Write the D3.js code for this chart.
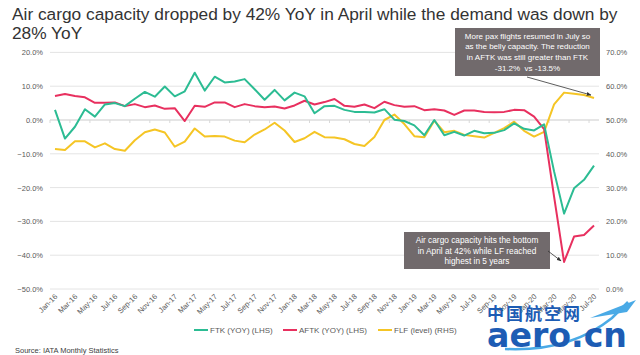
<!DOCTYPE html>
<html><head><meta charset="utf-8">
<script src="https://cdn.jsdelivr.net/npm/d3@7"></script>
<style>
body{margin:0;background:#fff;}
svg{display:block;font-family:"Liberation Sans",Arial,sans-serif;}
</style>
</head><body>
<svg id="c" width="640" height="355"></svg>
<script>
const months = ["Jan-16","Feb-16","Mar-16","Apr-16","May-16","Jun-16","Jul-16","Aug-16","Sep-16","Oct-16","Nov-16","Dec-16",
"Jan-17","Feb-17","Mar-17","Apr-17","May-17","Jun-17","Jul-17","Aug-17","Sep-17","Oct-17","Nov-17","Dec-17",
"Jan-18","Feb-18","Mar-18","Apr-18","May-18","Jun-18","Jul-18","Aug-18","Sep-18","Oct-18","Nov-18","Dec-18",
"Jan-19","Feb-19","Mar-19","Apr-19","May-19","Jun-19","Jul-19","Aug-19","Sep-19","Oct-19","Nov-19","Dec-19",
"Jan-20","Feb-20","Mar-20","Apr-20","May-20","Jun-20","Jul-20"];
const xTickLabels = ["Jan-16","Mar-16","May-16","Jul-16","Sep-16","Nov-16","Jan-17","Mar-17","May-17","Jul-17","Sep-17","Nov-17",
"Jan-18","Mar-18","May-18","Jul-18","Sep-18","Nov-18","Jan-19","Mar-19","May-19","Jul-19","Sep-19","Nov-19","Jan-20","Mar-20","May-20","Jul-20"];
const ftk = [3.0,-5.5,-2.0,3.2,1.0,4.6,5.0,4.1,6.3,8.3,6.9,9.9,
7.0,8.5,14.0,8.7,12.8,11.1,11.4,12.1,9.1,6.0,8.9,5.8,
8.1,7.0,2.0,4.1,4.2,3.0,2.4,2.4,2.2,3.2,0.1,-0.3,
-1.6,-4.5,0.0,-4.5,-3.5,-4.6,-3.2,-3.9,-3.8,-3.0,-1.0,-2.6,
-3.1,-1.3,-15.2,-27.7,-20.2,-17.7,-13.5];
const aftk = [7.1,7.7,7.1,6.7,5.1,5.1,5.2,4.1,4.7,3.8,4.3,3.3,
3.5,-0.3,4.2,3.9,5.2,5.2,3.8,4.7,4.1,3.8,4.0,3.4,
4.3,5.7,4.6,5.3,6.2,4.2,3.9,4.6,3.5,5.4,4.4,3.9,
4.1,2.9,3.2,2.8,1.5,2.8,2.8,2.4,2.3,2.4,3.0,2.9,
1.0,-2.7,-22.7,-42.0,-34.5,-34.0,-31.2];
const flf = [41.4,41.1,43.7,43.7,41.9,43.1,41.4,40.9,44.0,46.4,47.2,46.3,
42.1,43.6,47.5,45.1,45.3,45.1,43.9,43.4,45.7,47.2,49.2,46.9,
43.5,44.6,46.5,44.9,44.8,44.3,42.9,42.3,45.0,50.0,51.6,48.8,
45.2,44.9,49.8,46.4,46.8,45.6,45.2,44.8,46.2,47.6,49.5,46.8,
45.1,46.5,54.6,58.1,57.8,57.4,56.5];
const leftTicks = [-50,-40,-30,-20,-10,0,10,20];
const rightTicks = [0,10,20,30,40,50,60,70];
const seriesNames = ["FTK (YOY) (LHS)","AFTK (YOY) (LHS)","FLF (level) (RHS)"];
const colors = ["#2cbc93","#e8305f","#f5c525"];

const svg = d3.select("#c");
const L = 50, R = 599, T = 52.4, B = 289;
const x = d3.scaleBand().domain(months).range([L, R]);
const yL = d3.scaleLinear().domain([-50, 20]).range([B, T]);
const yR = d3.scaleLinear().domain([0, 70]).range([B, T]);
const cx = m => x(m) + x.bandwidth() / 2;
const fmt = v => d3.format(".1f")(v) + "%";

// title
const title = svg.append("text").attr("fill", "#333").style("font-size", "18px");
const t1 = title.append("tspan").attr("x", 12).attr("y", 20).text("Air cargo capacity dropped by 42% YoY in April while the demand was down by");
title.append("tspan").attr("x", 12).attr("y", 39).text("28% YoY");
const w1 = t1.node().getComputedTextLength();
title.style("font-size", (18 * 606 / w1).toFixed(2) + "px");

// gridlines
svg.append("g").selectAll("line").data(leftTicks).join("line")
  .attr("x1", L).attr("x2", R).attr("y1", d => yL(d)).attr("y2", d => yL(d))
  .attr("stroke", "#e4e4e4").attr("stroke-width", 1);

// left axis
const gl = svg.append("g").attr("transform", `translate(${L},0)`)
  .call(d3.axisLeft(yL).tickValues(leftTicks).tickFormat(fmt).tickSize(0).tickPadding(7));
gl.select(".domain").remove();
gl.selectAll("text").attr("fill", "#595959").style("font-size", "7.5px").style("font-family", "Liberation Sans, Arial, sans-serif");

// right axis
const gr = svg.append("g").attr("transform", `translate(${R},0)`)
  .call(d3.axisRight(yR).tickValues(rightTicks).tickFormat(d => d3.format(".1f")(d) + "%").tickSize(0).tickPadding(7));
gr.select(".domain").remove();
gr.selectAll("text").attr("fill", "#595959").style("font-size", "7.5px").style("font-family", "Liberation Sans, Arial, sans-serif");

// category axis line at 0% with tick marks between categories
const y0 = yL(0);
svg.append("line").attr("x1", L).attr("x2", R).attr("y1", y0).attr("y2", y0).attr("stroke", "#d9d9d9");
svg.append("g").selectAll("line").data(xTickLabels).join("line")
  .attr("x1", d => x(d)).attr("x2", d => x(d)).attr("y1", y0).attr("y2", y0 + 3)
  .attr("stroke", "#d9d9d9");

// x labels (bottom)
const gx = svg.append("g").attr("transform", `translate(0,${B})`)
  .call(d3.axisBottom(x).tickValues(xTickLabels).tickSize(0));
gx.select(".domain").remove();
gx.selectAll("text").attr("y", 0).attr("dy", 0)
  .attr("transform", "translate(3,8) rotate(-45)")
  .style("text-anchor", "end").attr("fill", "#595959").style("font-size", "7.5px")
  .style("font-family", "Liberation Sans, Arial, sans-serif");

// lines
const lineL = d3.line().x((d, i) => cx(months[i])).y(d => yL(d));
const lineR = d3.line().x((d, i) => cx(months[i])).y(d => yR(d));
svg.append("path").datum(flf).attr("d", lineR).attr("fill", "none").attr("stroke", colors[2]).attr("stroke-width", 2).attr("stroke-linejoin", "round");
svg.append("path").datum(aftk).attr("d", lineL).attr("fill", "none").attr("stroke", colors[1]).attr("stroke-width", 2).attr("stroke-linejoin", "round");
svg.append("path").datum(ftk).attr("d", lineL).attr("fill", "none").attr("stroke", colors[0]).attr("stroke-width", 2).attr("stroke-linejoin", "round");

// legend
const legX = [194, 283, 378];
const lg = svg.append("g");
seriesNames.forEach((n, i) => {
  lg.append("line").attr("x1", legX[i]).attr("x2", legX[i] + 14).attr("y1", 330).attr("y2", 330)
    .attr("stroke", colors[i]).attr("stroke-width", 2);
  lg.append("text").attr("x", legX[i] + 16).attr("y", 332.8).attr("fill", "#595959")
    .style("font-size", "8px").text(n);
});

// source
svg.append("text").attr("x", 15).attr("y", 353).attr("fill", "#404040").style("font-size", "7.5px")
  .text("Source: IATA Monthly Statistics");

// arrow marker
const defs = svg.append("defs");
defs.append("marker").attr("id", "ah").attr("viewBox", "0 0 10 10").attr("refX", 9).attr("refY", 5)
  .attr("markerWidth", 6).attr("markerHeight", 6).attr("orient", "auto")
  .append("path").attr("d", "M0,1 L10,5 L0,9 z").attr("fill", "#333");

// annotation 1
const boxFill = "#716a6c";
svg.append("rect").attr("x", 455).attr("y", 28).attr("width", 145).attr("height", 48).attr("fill", boxFill);
const a1 = ["More pax flights resumed in July so", "as the belly capacity. The reduction", "in AFTK was still greater than FTK", "-31.2%  vs -13.5%"];
svg.append("g").selectAll("text").data(a1).join("text")
  .attr("x", 527.5).attr("y", (d, i) => 38.5 + i * 10.7).attr("text-anchor", "middle")
  .attr("fill", "#fff").style("font-size", "8px").style("white-space", "pre").text(d => d);
svg.append("line").attr("x1", 527).attr("y1", 77).attr("x2", cx("Jul-20") - 3).attr("y2", yR(flf[54]) - 3)
  .attr("stroke", "#333").attr("stroke-width", 0.8).attr("marker-end", "url(#ah)");

// annotation 2
svg.append("rect").attr("x", 404).attr("y", 232).attr("width", 146).attr("height", 37).attr("fill", boxFill);
const a2 = ["Air cargo capacity hits the bottom", "in April at 42% while LF reached", "highest in 5 years"];
svg.append("g").selectAll("text").data(a2).join("text")
  .attr("x", 477).attr("y", (d, i) => 243 + i * 10.6).attr("text-anchor", "middle")
  .attr("fill", "#fff").style("font-size", "8.3px").text(d => d);
svg.append("line").attr("x1", 548).attr("y1", 251).attr("x2", cx("Apr-20") - 3).attr("y2", yL(-42) - 1)
  .attr("stroke", "#333").attr("stroke-width", 0.8).attr("marker-end", "url(#ah)");

// watermark
const wm = svg.append("g");
wm.append("path").attr("d", "M505,349 Q570,352 612,318 L628,302").attr("fill", "none").attr("stroke", "#4aaae6").attr("stroke-width", 2.5);
wm.append("path").attr("d", "M590,318 L636,300 L627,312 Z").attr("fill", "#4aaae6");
wm.append("text").attr("x", 487).attr("y", 320).attr("fill", "#1d5cb4")
  .style("font-family", "Noto Sans CJK SC").style("font-weight", "bold").style("font-size", "17px")
  .attr("textLength", 93).text("中国航空网");
wm.append("text").attr("x", 487).attr("y", 347).attr("fill", "#1d5cb4")
  .style("font-family", "DejaVu Sans").style("font-weight", "bold").style("font-size", "33px")
  .attr("textLength", 140).attr("lengthAdjust", "spacingAndGlyphs").text("aero.cn");
</script>
</body></html>
